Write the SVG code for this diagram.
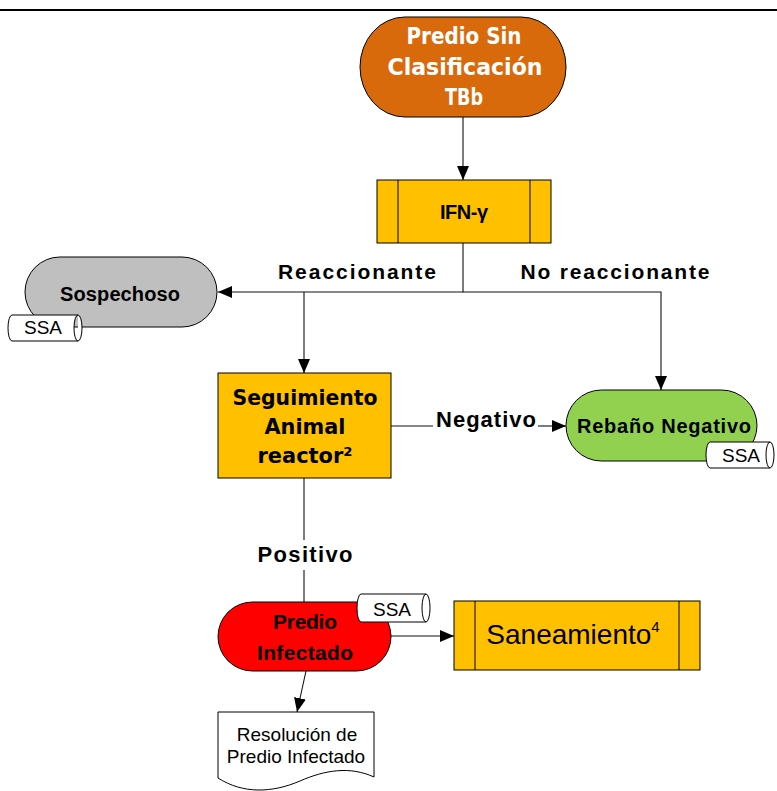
<svg xmlns="http://www.w3.org/2000/svg" width="777" height="791" viewBox="0 0 777 791">
<style>
.n{stroke:#000;stroke-width:1}
.ln{stroke:#111;stroke-width:1.1;fill:none}
.tb{font-family:"Liberation Sans",Arial,sans-serif;font-weight:bold;text-anchor:middle;fill:#000}
.tg{font-family:"DejaVu Sans","Liberation Sans",sans-serif;font-weight:bold;text-anchor:middle}
.tr{font-family:"Liberation Sans",Arial,sans-serif;text-anchor:middle;fill:#000}
.tag{fill:#fff;stroke:#000;stroke-width:1}
</style>
<defs>
<marker id="ar" markerUnits="userSpaceOnUse" markerWidth="14" markerHeight="12" refX="14" refY="6" orient="auto">
<path d="M0,0 L14,6 L0,12 z" fill="#000"/>
</marker>
</defs>
<rect width="777" height="791" fill="#fff"/>
<line x1="0" y1="10" x2="777" y2="10" stroke="#000" stroke-width="2"/>

<g id="connectors">
<line class="ln" x1="463" y1="117" x2="463" y2="180" marker-end="url(#ar)"/>
<polyline class="ln" points="463,243 463,292 218,292" marker-end="url(#ar)"/>
<polyline class="ln" points="463,292 661,292 661,390" marker-end="url(#ar)"/>
<line class="ln" x1="304" y1="292" x2="304" y2="373" marker-end="url(#ar)"/>
<line class="ln" x1="391" y1="426" x2="433" y2="426"/>
<line class="ln" x1="538" y1="426" x2="566" y2="426" marker-end="url(#ar)"/>
<line class="ln" x1="304" y1="478" x2="304" y2="540"/>
<line class="ln" x1="304" y1="570" x2="304" y2="602"/>
<line class="ln" x1="391" y1="636" x2="454" y2="636" marker-end="url(#ar)"/>
<line class="ln" x1="306" y1="671" x2="297" y2="712" marker-end="url(#ar)"/>
<text class="tb" x="357" y="279" font-size="21" textLength="158">Reaccionante</text>
<text class="tb" x="615" y="279" font-size="21" textLength="189">No reaccionante</text>
<text class="tb" x="486" y="427" font-size="22" textLength="100">Negativo</text>
<text class="tb" x="305" y="562" font-size="22" textLength="95">Positivo</text>
</g>

<g id="predio-sin-clasificacion">
<rect class="n" x="360" y="17" width="206" height="100" rx="45" ry="50" fill="#D86A0C"/>
<text class="tg" x="464" y="44" font-size="23" fill="#fff" textLength="115" lengthAdjust="spacingAndGlyphs">Predio Sin</text>
<text class="tg" x="465" y="75" font-size="23" fill="#fff" textLength="155" lengthAdjust="spacingAndGlyphs">Clasificación</text>
<text class="tg" x="464" y="105" font-size="23" fill="#fff" textLength="38" lengthAdjust="spacingAndGlyphs">TBb</text>
</g>

<g id="ifn">
<rect class="n" x="377" y="180" width="174" height="63" fill="#FFC000"/>
<line class="n" x1="398" y1="180" x2="398" y2="243"/>
<line class="n" x1="530" y1="180" x2="530" y2="243"/>
<text class="tb" x="464" y="219" font-size="20" textLength="48">IFN-γ</text>
</g>

<g id="sospechoso">
<rect class="n" x="25" y="257" width="192" height="70" rx="35" fill="#BFBFBF"/>
<text class="tb" x="120" y="301" font-size="20" textLength="120">Sospechoso</text>
<path class="tag" d="M12,315 H78 A4,13 0 0 1 78,341 H12 A4,13 0 0 1 12,315 Z M78,315 A4,13 0 0 0 78,341"/>
<text class="tr" x="43" y="334" font-size="19">SSA</text>
</g>

<g id="seguimiento">
<rect class="n" x="218" y="373" width="173" height="105" fill="#FFC000"/>
<text class="tg" x="305" y="405" font-size="22" textLength="145" lengthAdjust="spacingAndGlyphs">Seguimiento</text>
<text class="tg" x="305" y="434" font-size="22" textLength="81" lengthAdjust="spacingAndGlyphs">Animal</text>
<text class="tg" x="305" y="463" font-size="22" textLength="95" lengthAdjust="spacingAndGlyphs">reactor²</text>
</g>

<g id="rebano-negativo">
<rect class="n" x="566" y="390" width="191" height="71" rx="35.5" fill="#92D050"/>
<text class="tb" x="664" y="433" font-size="20" textLength="174">Rebaño Negativo</text>
<path class="tag" d="M710,442 H770 A4,13 0 0 1 770,468 H710 A4,13 0 0 1 710,442 Z M770,442 A4,13 0 0 0 770,468"/>
<text class="tr" x="741" y="462" font-size="19">SSA</text>
</g>

<g id="predio-infectado">
<rect class="n" x="218" y="602" width="173" height="69" rx="34.5" fill="#FF0000"/>
<text class="tb" x="305" y="629" font-size="21" textLength="64">Predio</text>
<text class="tb" x="305" y="660" font-size="21" textLength="96">Infectado</text>
<path class="tag" d="M361,594 H426 A4,14 0 0 1 426,622 H361 A4,14 0 0 1 361,594 Z M426,594 A4,14 0 0 0 426,622"/>
<text class="tr" x="392" y="616" font-size="19">SSA</text>
</g>

<g id="saneamiento">
<rect class="n" x="454" y="601" width="246" height="69" fill="#FFC000"/>
<line class="n" x1="475" y1="601" x2="475" y2="670"/>
<line class="n" x1="679" y1="601" x2="679" y2="670"/>
<text class="tr" x="573" y="644" font-size="28"><tspan>Saneamiento</tspan><tspan font-size="15" dy="-12">4</tspan></text>
</g>

<g id="resolucion">
<path class="n" d="M218,712 H374 V777 C350,766 325,770 300,781 C272,793 243,794 218,778 Z" fill="#fff"/>
<text class="tr" x="297" y="741" font-size="19">Resolución de</text>
<text class="tr" x="296" y="763" font-size="19">Predio Infectado</text>
</g>
</svg>
